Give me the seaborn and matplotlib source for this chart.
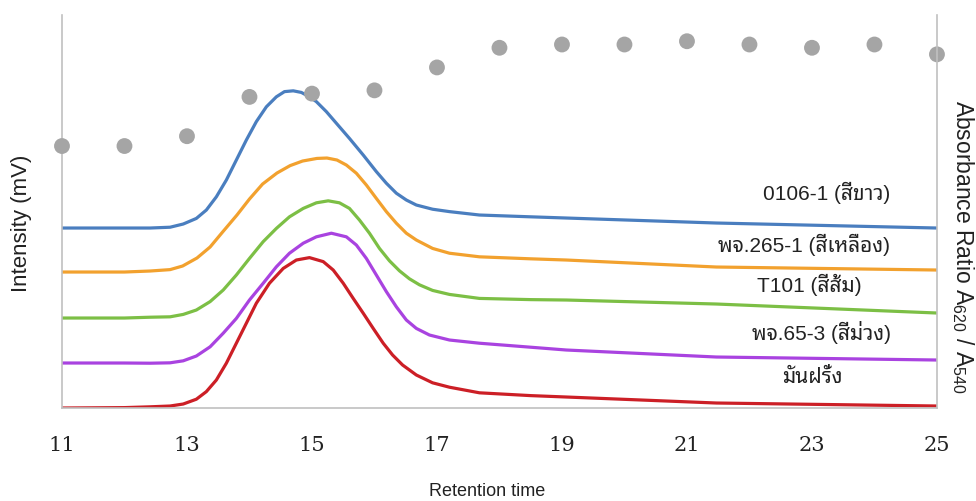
import pandas as pd
import seaborn as sns
import matplotlib.pyplot as plt

# ============================================================= #
# ============================ Data =========================== #
# ============================================================= #
labels = ["0106-1 (สีขาว)", "พจ.265-1 (สีเหลือง)", "T101 (สีส้ม)",
          "พจ.65-3 (สีม่วง)", "มันฝรั่ง"]
colors = ["#4a7ebf", "#f2a12e", "#7cbf45", "#a943e0", "#cc1f26"]

t_blue = [11, 12, 12.41, 12.73, 12.94, 13.15, 13.31, 13.47, 13.63, 13.79, 13.95,
          14.11, 14.27, 14.43, 14.56, 14.70, 14.83, 14.96, 15.07, 15.23, 15.39,
          15.60, 15.82, 16.03, 16.19, 16.35, 16.51, 16.67, 16.93, 17.20, 17.68,
          18.5, 19.07, 21.47, 25]
i_blue = [45.0, 45.0, 45.0, 45.2, 46.0, 47.4, 49.5, 52.8, 57.0, 62.0, 67.0,
          71.6, 75.3, 77.8, 79.1, 79.3, 78.9, 77.8, 76.6, 74.1, 71.2,
          67.4, 63.25, 59.1, 56.2, 53.7, 52.0, 50.75, 49.7, 49.1, 48.25,
          47.8, 47.5, 46.25, 45.0]

t_orange = [11, 12, 12.41, 12.73, 12.93, 13.16, 13.37, 13.57, 13.80, 14.0, 14.21,
            14.44, 14.65, 14.85, 15.08, 15.24, 15.40, 15.55, 15.71, 15.87, 16.03,
            16.19, 16.35, 16.51, 16.67, 16.93, 17.20, 17.68, 18.5, 19.07, 21.47, 25]
i_orange = [34.0, 34.0, 34.25, 34.6, 35.5, 37.5, 40.25, 44.0, 48.25, 52.25, 56.0,
            58.75, 60.6, 61.75, 62.4, 62.5, 62.0, 60.75, 58.7, 55.75, 52.4,
            49.1, 46.2, 43.7, 42.0, 39.9, 38.7, 37.8, 37.3, 37.0, 35.25, 34.5]

t_green = [11, 12, 12.41, 12.73, 12.94, 13.15, 13.37, 13.58, 13.79, 14.0, 14.22,
           14.43, 14.64, 14.86, 15.07, 15.26, 15.44, 15.60, 15.76, 15.92, 16.08,
           16.24, 16.40, 16.56, 16.72, 16.93, 17.20, 17.68, 18.5, 19.07, 21.47, 25]
i_green = [22.5, 22.5, 22.7, 22.8, 23.4, 24.5, 26.6, 29.5, 33.25, 37.4, 41.6,
           44.9, 47.8, 49.9, 51.3, 51.8, 51.3, 49.9, 47.0, 43.7, 39.9,
           36.8, 34.3, 32.3, 30.8, 29.4, 28.4, 27.4, 27.1, 27.0, 26.0, 23.75]

t_purple = [11, 12, 12.41, 12.73, 12.94, 13.15, 13.37, 13.58, 13.79, 14.0, 14.22,
            14.43, 14.64, 14.86, 15.07, 15.31, 15.55, 15.71, 15.87, 16.03, 16.19,
            16.35, 16.51, 16.67, 16.88, 17.20, 17.68, 18.5, 19.07, 21.47, 25]
i_purple = [11.25, 11.25, 11.2, 11.3, 11.8, 13.0, 15.3, 18.7, 22.4, 27.0, 31.2,
            35.3, 38.7, 41.2, 42.8, 43.7, 42.8, 40.75, 37.4, 33.25, 29.1,
            25.3, 22.0, 19.9, 18.25, 17.0, 16.2, 15.2, 14.5, 12.75, 12.0]

t_red = [11, 12, 12.41, 12.73, 12.94, 13.15, 13.31, 13.47, 13.63, 13.79, 13.95,
         14.11, 14.32, 14.54, 14.75, 14.96, 15.18, 15.34, 15.50, 15.66, 15.82,
         15.98, 16.14, 16.29, 16.45, 16.67, 16.93, 17.20, 17.68, 18.5, 19.07, 21.47, 25]
i_red = [0.0, 0.1, 0.3, 0.5, 1.0, 2.2, 4.1, 7.0, 11.2, 16.2, 21.2,
         26.2, 31.2, 34.9, 37.0, 37.6, 36.6, 34.5, 31.2, 27.4, 23.7,
         19.9, 16.2, 13.25, 10.75, 8.25, 6.3, 5.2, 3.8, 3.1, 2.75, 1.25, 0.5]

# absorbance ratio A620/A540 (secondary axis)
ratio_t = [11, 12, 13, 14, 15, 16, 17, 18, 19, 20, 21, 22, 23, 24, 25]
ratio_v = [0.80, 0.80, 0.83, 0.95, 0.96, 0.97, 1.04, 1.10, 1.11, 1.11,
           1.12, 1.11, 1.10, 1.11, 1.08]

series = [(t_blue, i_blue), (t_orange, i_orange), (t_green, i_green),
          (t_purple, i_purple), (t_red, i_red)]

# ============================================================= #
# =========================== Plot ============================ #
# ============================================================= #
sns.set_theme(style="white")
plt.rcParams['font.family'] = ['Liberation Sans', 'Noto Sans Thai Looped', 'DejaVu Sans']
plt.rcParams['mathtext.default'] = 'regular'

fig = plt.figure(figsize=(9.76, 5.01), dpi=100)
ax = fig.add_axes([0.0635, 0.1856, 0.8965, 0.7844])

for (t, v), c in zip(series, colors):
    df = pd.DataFrame({"t": t, "v": v})
    sns.lineplot(data=df, x="t", y="v", ax=ax, color=c, linewidth=2.3, legend=False)

# sample names sit just above their own trace on the right
label_x = [23.24, 22.87, 22.95, 23.15, 23.0]
label_y = [53.75, 40.75, 30.75, 19.0, 7.75]
for lab, x, y in zip(labels, label_x, label_y):
    ax.text(x, y, lab, ha="center", va="center", fontsize=15, color="#222222")

ax.set_xlim(11, 25)
ax.set_ylim(0, 98.25)
ax.set_xticks(range(11, 26, 2))
ax.set_yticks([])
ax.tick_params(axis="x", length=0, pad=20)
for lb in ax.get_xticklabels():
    lb.set_fontfamily("DejaVu Serif")
    lb.set_fontsize(15)
    lb.set_color("#222222")
ax.set_xlabel("")
ax.set_ylabel("")

ax2 = ax.twinx()
dots = pd.DataFrame({"t": ratio_t, "r": ratio_v})
sns.scatterplot(data=dots, x="t", y="r", ax=ax2, color="#a5a5a5", s=130,
                edgecolor="none", legend=False, clip_on=False)
ax2.set_ylim(0, 1.2)
ax2.set_yticks([])
ax2.set_xlim(11, 25)
ax2.set_ylabel("")

fig.text(0.499, 0.018, "Retention time", ha="center", va="center",
         fontsize=13, color="#222222")
fig.text(0.0225, 0.555, "Intensity (mV)", ha="center", va="center",
         rotation=90, fontsize=16, color="#222222")
fig.text(0.9867, 0.507, "Absorbance Ratio A$_{620}$ / A$_{540}$", ha="center",
         va="center", rotation=270, fontsize=16.5, color="#222222")

for a in (ax, ax2):
    a.spines["top"].set_visible(False)
    for s in ("left", "right", "bottom"):
        a.spines[s].set_color("#c0c0c0")
        a.spines[s].set_linewidth(1.2)
ax.spines["right"].set_visible(False)
ax2.spines["left"].set_visible(False)
ax2.spines["bottom"].set_visible(False)

fig.savefig("out.png", dpi=100)
